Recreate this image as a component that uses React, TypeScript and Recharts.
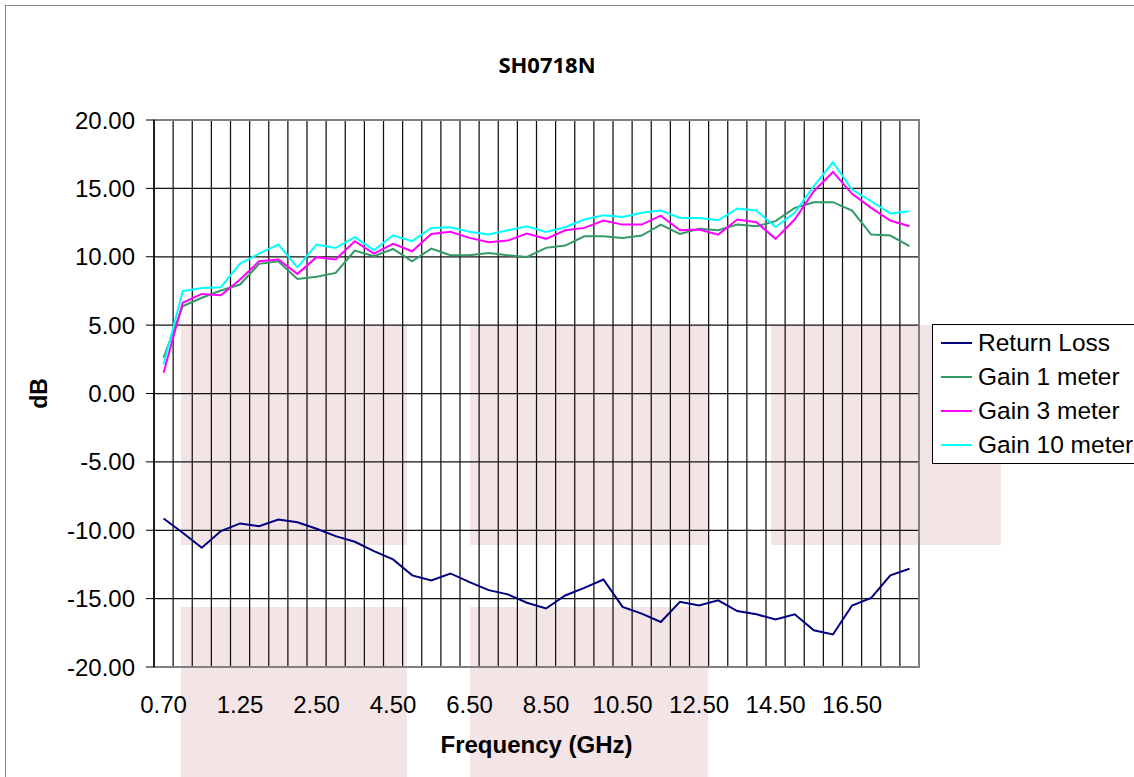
import React from "react";
import {
  LineChart,
  Line,
  XAxis,
  YAxis,
  CartesianGrid,
  ReferenceArea,
  Legend,
} from "recharts";

// frequency points (GHz) - only every 4th one is labelled on the axis
const FREQ = [
  "0.70", "0.80", "0.90", "1.00", "1.25", "1.50", "1.75", "2.00",
  "2.50", "3.00", "3.50", "4.00", "4.50", "5.00", "5.50", "6.00",
  "6.50", "7.00", "7.50", "8.00", "8.50", "9.00", "9.50", "10.00",
  "10.50", "11.00", "11.50", "12.00", "12.50", "13.00", "13.50", "14.00",
  "14.50", "15.00", "15.50", "16.00", "16.50", "17.00", "17.50", "18.00",
];

const RETURN_LOSS = [
  -9.14, -10.18, -11.28, -10.06, -9.5, -9.7, -9.21, -9.41, -9.89, -10.43,
  -10.84, -11.53, -12.13, -13.3, -13.67, -13.16, -13.79, -14.38, -14.69, -15.3,
  -15.72, -14.77, -14.21, -13.6, -15.6, -16.1, -16.71, -15.23, -15.5, -15.13,
  -15.91, -16.15, -16.52, -16.15, -17.32, -17.62, -15.5, -14.94, -13.3, -12.82,
];

const GAIN_1M = [
  2.61, 6.38, 7.0, 7.53, 7.97, 9.48, 9.67, 8.38, 8.53, 8.82,
  10.45, 10.04, 10.57, 9.67, 10.6, 10.11, 10.11, 10.28, 10.11, 9.99,
  10.65, 10.82, 11.5, 11.5, 11.38, 11.55, 12.35, 11.67, 12.04, 11.94,
  12.35, 12.23, 12.6, 13.57, 13.99, 13.99, 13.38, 11.62, 11.55, 10.77,
];

const GAIN_3M = [
  1.51, 6.63, 7.28, 7.19, 8.33, 9.67, 9.8, 8.75, 9.97, 9.8,
  11.14, 10.23, 10.94, 10.4, 11.67, 11.82, 11.38, 11.06, 11.18, 11.7,
  11.31, 11.94, 12.11, 12.65, 12.35, 12.35, 13.01, 11.94, 11.99, 11.62,
  12.72, 12.52, 11.31, 12.72, 14.79, 16.2, 14.6, 13.57, 12.65, 12.23,
];

const GAIN_10M = [
  2.12, 7.48, 7.72, 7.77, 9.5, 10.23, 10.89, 9.23, 10.89, 10.65,
  11.43, 10.48, 11.57, 11.14, 12.11, 12.16, 11.82, 11.62, 11.94, 12.23,
  11.82, 12.16, 12.72, 13.04, 12.91, 13.21, 13.38, 12.84, 12.84, 12.67,
  13.52, 13.38, 12.18, 13.21, 15.16, 16.91, 14.91, 14.06, 13.16, 13.33,
];

const Y_TICKS = [-20, -15, -10, -5, 0, 5, 10, 15, 20];

const SERIES = [
  { key: "rl", name: "Return Loss", color: "#000080" },
  { key: "g1", name: "Gain 1 meter", color: "#339966" },
  { key: "g3", name: "Gain 3 meter", color: "#FF00FF" },
  { key: "g10", name: "Gain 10 meter", color: "#00FFFF" },
];

const data = FREQ.map((f, i) => ({
  idx: i,
  freq: f,
  rl: RETURN_LOSS[i],
  g1: GAIN_1M[i],
  g3: GAIN_3M[i],
  g10: GAIN_10M[i],
}));

// category boundaries (gridlines sit between the points, Excel style)
const BOUNDS = [...FREQ.map((_, i) => i - 0.5), FREQ.length - 0.5];
const LABEL_TICKS = FREQ.map((_, i) => i).filter((i) => i % 4 === 0);

const FONT = "'Liberation Sans', Arial, sans-serif";

// background blocks seen in the source image
const BLOCKS = [
  { left: 181, top: 325, width: 226, height: 220 },
  { left: 470, top: 325, width: 238, height: 220 },
  { left: 771, top: 325, width: 230, height: 220 },
  { left: 181, top: 607, width: 226, height: 170 },
  { left: 470, top: 607, width: 238, height: 170 },
];

const EmptyTick = () => <g />;

const renderLegend = (props: any) => {
  const order = SERIES.map((s) => s.name);
  const payload = [...(props.payload || [])].sort(
    (a: any, b: any) => order.indexOf(a.value) - order.indexOf(b.value)
  );
  return (
    <div
      style={{
        border: "1.5px solid #000",
        background: "#fff",
        padding: "1px 0 1px 8px",
        width: 240,
        boxSizing: "border-box",
      }}
    >
      {payload.map((entry: any) => (
        <div
          key={entry.value}
          style={{ display: "flex", alignItems: "center", height: 34 }}
        >
          <svg width={31} height={4} style={{ display: "block" }}>
            <line x1={0} y1={2} x2={31} y2={2} stroke={entry.color} strokeWidth={2} />
          </svg>
          <span
            style={{
              marginLeft: 6,
              fontSize: 24.5,
              fontFamily: FONT,
              color: "#000",
              whiteSpace: "nowrap",
            }}
          >
            {entry.value}
          </span>
        </div>
      ))}
    </div>
  );
};

export default function App() {
  return (
    <div
      style={{
        position: "absolute",
        left: 0,
        top: 0,
        width: 1134,
        height: 777,
        overflow: "hidden",
        background: "#fff",
      }}
    >
      <div
        style={{
          position: "absolute",
          left: 5,
          top: 5,
          width: 1400,
          height: 1000,
          border: "1.5px solid #888",
        }}
      />
      {BLOCKS.map((b, i) => (
        <div key={i} style={{ position: "absolute", background: "#f3e5e5", ...b }} />
      ))}
      <div
        style={{
          position: "absolute",
          left: 447,
          top: 49,
          width: 200,
          textAlign: "center",
          fontFamily: "'Open Sans', sans-serif",
          fontWeight: 700,
          fontSize: 22,
          lineHeight: "30px",
          color: "#000",
        }}
      >
        SH0718N
      </div>
      <div style={{ position: "absolute", left: 0, top: 0 }}>
        <LineChart
          width={1134}
          height={777}
          data={data}
          margin={{ top: 120, right: 215, bottom: 20, left: 54 }}
        >
          <CartesianGrid
            xAxisId="grid"
            yAxisId="y"
            stroke="#111"
            strokeWidth={1.25}
          />
          <ReferenceArea
            xAxisId="main"
            yAxisId="y"
            x1={-0.5}
            x2={FREQ.length - 0.5}
            y1={-20}
            y2={20}
            fill="none"
            stroke="#808080"
            strokeWidth={2}
          />
          <XAxis
            xAxisId="grid"
            type="number"
            dataKey="idx"
            domain={[-0.5, FREQ.length - 0.5]}
            ticks={BOUNDS}
            height={0}
            tick={EmptyTick}
            tickSize={6}
            tickLine={{ stroke: "#000" }}
            axisLine={{ stroke: "#808080", strokeWidth: 2 }}
            interval={0}
          />
          <XAxis
            xAxisId="main"
            type="number"
            dataKey="idx"
            domain={[-0.5, FREQ.length - 0.5]}
            ticks={LABEL_TICKS}
            interval={0}
            height={90}
            tickLine={false}
            axisLine={false}
            tickSize={0}
            tickMargin={29}
            tickFormatter={(v: number) => FREQ[v]}
            tick={{ fill: "#000", fontSize: 24, fontFamily: FONT }}
            label={{
              value: "Frequency (GHz)",
              position: "insideBottom",
              offset: 4,
              style: { fill: "#000", fontSize: 24, fontWeight: 700, fontFamily: FONT },
            }}
          />
          <YAxis
            yAxisId="y"
            type="number"
            domain={[-20, 20]}
            ticks={Y_TICKS}
            interval={0}
            width={100}
            tickSize={8}
            tickMargin={11}
            tickLine={{ stroke: "#000" }}
            axisLine={{ stroke: "#000", strokeWidth: 1.5 }}
            tickFormatter={(v: number) => v.toFixed(2)}
            tick={{ fill: "#000", fontSize: 24, fontFamily: FONT }}
            label={{
              value: "dB",
              angle: -90,
              position: "insideLeft",
              offset: -15,
              style: {
                textAnchor: "middle",
                fill: "#000",
                fontSize: 23,
                fontWeight: 700,
                fontFamily: FONT,
              },
            }}
          />
          {SERIES.map((s) => (
            <Line
              key={s.key}
              xAxisId="main"
              yAxisId="y"
              type="linear"
              dataKey={s.key}
              name={s.name}
              stroke={s.color}
              strokeWidth={2}
              dot={false}
              activeDot={false}
              isAnimationActive={false}
            />
          ))}
          <Legend
            layout="vertical"
            align="center"
            verticalAlign="middle"
            content={renderLegend}
            wrapperStyle={{ left: 932, top: 324, width: 240 }}
          />
        </LineChart>
      </div>
    </div>
  );
}
